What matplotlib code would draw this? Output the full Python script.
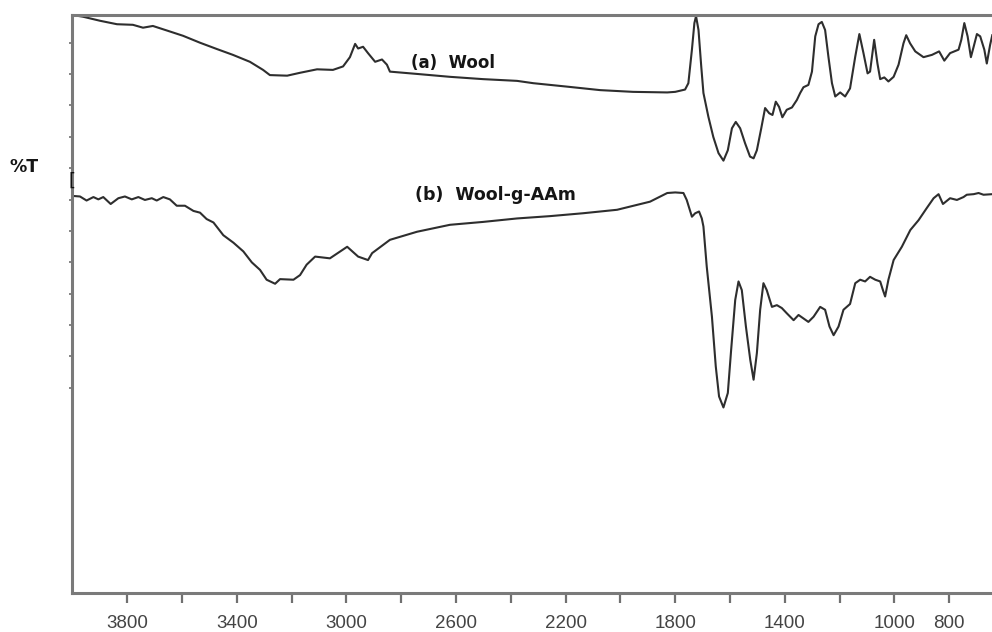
import numpy as np
import matplotlib
matplotlib.use('Agg')
import matplotlib.pyplot as plt

# FTIR spectra: wavenumber (cm-1) and %T (arbitrary scale 0-100)
wool_wn = [4000, 3961, 3899, 3837, 3779, 3742, 3706, 3654, 3596, 3534, 3472, 3414, 3352,
           3304, 3279, 3216, 3169, 3107, 3049, 3012, 2987, 2968, 2957, 2939, 2921, 2895,
           2870, 2852, 2841, 2742, 2622, 2501, 2377, 2318, 2194, 2074, 1954, 1829,
           1800, 1764, 1752, 1739, 1730, 1724, 1715, 1705, 1697, 1679, 1661, 1642, 1624,
           1608, 1593, 1579, 1563, 1545, 1527, 1514, 1502, 1486, 1472, 1457, 1445, 1433,
           1421, 1409, 1393, 1374, 1356, 1344, 1332, 1314, 1301, 1289, 1277, 1265, 1253,
           1241, 1228, 1216, 1198, 1180, 1162, 1143, 1128, 1113, 1098, 1089, 1074, 1062,
           1052, 1037, 1022, 1003, 985, 967, 957, 943, 924, 894, 863, 837, 818, 797, 766,
           756, 745, 733, 721, 711, 699, 687, 672, 663, 651, 643]
wool_t = [100.0, 99.7, 99.0, 98.4, 98.3, 97.8, 98.1, 97.3, 96.4, 95.2, 94.1, 93.1, 91.9,
          90.5, 89.6, 89.5, 90.0, 90.6, 90.5, 91.1, 92.7, 95.0, 94.2, 94.5, 93.4, 91.9,
          92.3, 91.4, 90.2, 89.8, 89.3, 88.9, 88.6, 88.2, 87.6, 87.0, 86.7, 86.6,
          86.7, 87.1, 88.2, 94.0, 98.6, 99.8, 97.4, 91.1, 86.5, 82.4, 78.9, 76.1, 74.8,
          76.6, 80.4, 81.5, 80.4, 77.8, 75.5, 75.2, 76.6, 80.4, 83.9, 83.0, 82.7, 85.0,
          84.1, 82.3, 83.6, 84.0, 85.3, 86.5, 87.5, 87.9, 90.2, 96.3, 98.4, 98.8, 97.4,
          92.8, 88.2, 85.9, 86.6, 85.9, 87.3, 92.8, 96.7, 93.4, 89.9, 90.2, 95.7, 91.6,
          88.9, 89.2, 88.5, 89.3, 91.4, 95.1, 96.5, 95.1, 93.7, 92.7, 93.1, 93.7, 92.1, 93.4, 94.0,
          95.7, 98.6, 96.3, 92.7, 94.5, 96.7, 96.3, 94.0, 91.6, 94.8, 96.5]

graft_wn = [4000, 3972, 3948, 3923, 3905, 3887, 3860, 3832, 3808, 3783, 3759, 3735, 3710,
            3692, 3668, 3644, 3619, 3589, 3558, 3534, 3510, 3485, 3449, 3412, 3376, 3345,
            3315, 3291, 3260, 3242, 3193, 3169, 3145, 3114, 3060, 2997, 2957, 2921, 2906,
            2841, 2742, 2622, 2501, 2377, 2257, 2136, 2012, 1892, 1829,
            1800, 1770, 1758, 1739, 1727, 1713, 1703, 1697, 1685, 1666, 1652, 1640, 1624,
            1608, 1596, 1581, 1569, 1557, 1542, 1526, 1514, 1502, 1490, 1478, 1466, 1447,
            1429, 1411, 1393, 1368, 1350, 1332, 1314, 1295, 1271, 1253, 1237, 1222, 1204,
            1186, 1162, 1143, 1125, 1107, 1089, 1070, 1052, 1042, 1034, 1022, 1003, 973,
            942, 912, 882, 857, 839, 823, 797, 772, 748, 736, 711, 693, 675, 643]
graft_t = [68.7, 68.6, 67.9, 68.5, 68.1, 68.5, 67.3, 68.3, 68.6, 68.1, 68.5, 68.0, 68.3,
           67.9, 68.5, 68.1, 67.0, 67.0, 66.1, 65.8, 64.7, 64.1, 61.9, 60.6, 59.1, 57.2,
           55.9, 54.2, 53.5, 54.3, 54.2, 55.0, 56.8, 58.2, 57.9, 59.9, 58.2, 57.6, 58.8,
           61.1, 62.5, 63.7, 64.2, 64.8, 65.2, 65.7, 66.3, 67.7, 69.2,
           69.3, 69.2, 68.0, 65.1, 65.7, 66.0, 64.8, 63.4, 56.5, 47.8, 39.2, 34.0, 32.1,
           34.6, 42.0, 50.7, 53.9, 52.4, 46.1, 40.3, 36.9, 41.5, 49.0, 53.6, 52.4, 49.5,
           49.8, 49.3, 48.4, 47.2, 48.1, 47.5, 46.9, 47.8, 49.5, 49.0, 46.1, 44.6, 46.1,
           49.0, 50.0, 53.6, 54.2, 53.9, 54.7, 54.2, 53.9, 52.4, 51.3, 54.2, 57.6, 59.9,
           62.8, 64.5, 66.6, 68.3, 69.0, 67.3, 68.3, 68.0, 68.5, 68.9, 69.0, 69.2, 68.9, 69.0]

tick_pos = np.arange(3800, 700, -200)
tick_lbl = ['3800', '', '3400', '', '3000', '', '2600', '', '2200', '', '1800', '',
            '1400', '', '1000', '800']

fig = plt.figure(figsize=(9.92, 6.32), dpi=100)
ax = fig.add_axes([0.0729, 0.0617, 0.9271, 0.9146])

line_col = '#2e2e2e'
ax.plot(wool_wn, wool_t, color=line_col, lw=1.5)
ax.plot(graft_wn, graft_t, color=line_col, lw=1.5)

ax.set_xlim(4000, 644)
ax.set_ylim(0, 100)

ax.set_xticks(tick_pos)
ax.set_xticklabels(tick_lbl, family='Liberation Sans', fontsize=13.5, color='#444444')
ax.tick_params(axis='x', direction='out', length=7, width=1.6, color='#707070', pad=9)
ax.set_yticks(np.linspace(35.5, 95.2, 12))
ax.set_yticklabels([])
ax.tick_params(axis='y', direction='out', length=2.5, width=1.2, color='#707070')

for side in ['left', 'top', 'bottom']:
    ax.spines[side].set_color('#7a7a7a')
    ax.spines[side].set_linewidth(2.2)
ax.spines['right'].set_visible(False)

# labels on the spectra
ax.text(0.368, 0.917, '(a)  Wool', transform=ax.transAxes, fontsize=12, fontweight='bold',
        color='#151515', ha='left', va='center')
ax.text(0.373, 0.689, '(b)  Wool-g-AAm', transform=ax.transAxes, fontsize=12.5,
        fontweight='bold', color='#151515', ha='left', va='center')
fig.text(0.010, 0.735, '%T', fontsize=12.5, fontweight='bold', color='#151515',
         ha='left', va='center')
# small bracket mark left on the axis in the original scan
fig.text(0.0695, 0.714, '[', fontsize=13, color='#111111', ha='left', va='center')

fig.savefig('out.png', dpi=100)
